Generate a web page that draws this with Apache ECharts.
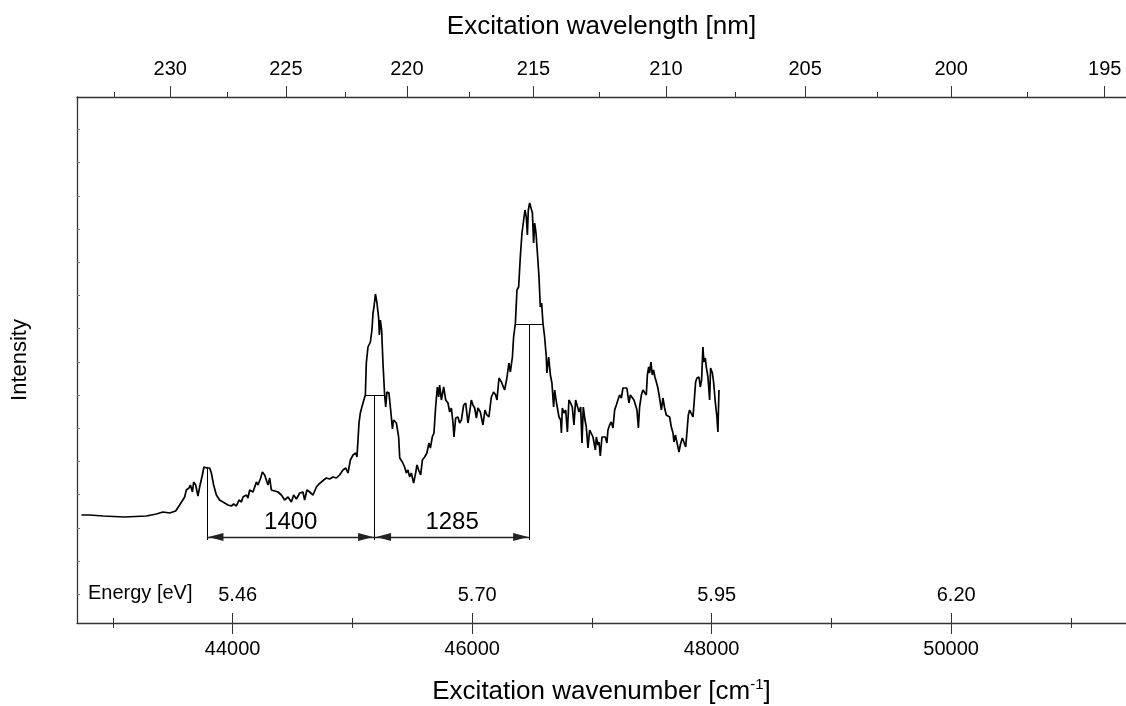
<!DOCTYPE html>
<html><head><meta charset="utf-8">
<script src="https://cdn.jsdelivr.net/npm/echarts@6/dist/echarts.min.js"></script>
<style>html,body{margin:0;padding:0;background:#fff}#chart{width:1126px;height:706px}</style>
</head><body><div id="chart"></div>
<script>
// ---- data ----
const wavenumber = [
42737,42806,42917,43098,43279,43363,43418,43474,43524,43557,43599,43613,43635,43647,43664,43674,43691,43710,43724,43747,
43760,43785,43808,43822,43841,43864,43891,43933,43961,43989,44008,44031,44053,44073,44086,44114,44128,44142,44170,44184,
44198,44211,44231,44248,44267,44281,44295,44309,44323,44351,44378,44407,44434,44462,44490,44509,44532,44560,44587,44601,
44620,44643,44671,44699,44721,44741,44760,44782,44810,44838,44866,44893,44921,44944,44963,44983,45005,45027,45038,45055,
45066,45088,45108,45116,45130,45150,45163,45172,45180,45192,45205,45219,45225,45233,45244,45255,45269,45278,45288,45305,
45325,45334,45344,45367,45386,45395,45417,45436,45450,45464,45478,45492,45511,45528,45539,45553,45570,45584,45603,45622,
45639,45651,45667,45681,45695,45709,45720,45728,45743,45762,45779,45798,45812,45826,45840,45848,45862,45881,45895,45910,
45929,45946,45965,45979,45993,46006,46021,46035,46048,46068,46090,46107,46123,46140,46160,46179,46196,46207,46224,46244,
46257,46271,46290,46307,46319,46336,46346,46361,46374,46388,46402,46416,46430,46441,46452,46461,46469,46480,46491,46503,
46513,46522,46533,46547,46558,46569,46580,46591,46605,46619,46624,46639,46653,46666,46680,46689,46703,46716,46725,46739,
46745,46753,46766,46781,46795,46808,46822,46836,46850,46864,46878,46892,46906,46917,46928,46942,46953,46967,46981,46995,
47009,47017,47029,47037,47050,47059,47070,47084,47098,47112,47125,47134,47148,47162,47176,47190,47204,47217,47231,47246,
47259,47273,47292,47309,47321,47337,47351,47365,47376,47388,47398,47413,47426,47440,47454,47463,47474,47482,47493,47504,
47515,47526,47538,47551,47565,47580,47593,47607,47621,47635,47649,47663,47677,47685,47697,47710,47727,47738,47755,47768,
47783,47793,47805,47816,47830,47844,47855,47866,47877,47894,47905,47916,47927,47935,47947,47955,47969,47983,47991,48006,
48016,48031,48044,48052,48061
];
const intensity = [
108,108,107,106,107,109,111,110,112,118,126,133,135,138,131,141,138,127,136,148,
156,155,155,150,138,128,123,120,118,117,119,117,123,121,126,128,125,133,131,136,
141,138,144,151,148,150,138,145,133,132,131,128,123,126,121,128,124,130,131,123,
133,131,128,136,139,141,143,145,144,146,145,148,153,155,150,163,168,170,166,200,
210,220,228,260,276,281,293,310,316,329,320,305,288,303,293,260,228,216,231,230,
206,194,203,200,186,165,161,156,150,153,146,150,140,150,158,153,148,163,166,170,
180,175,186,190,216,236,226,238,223,236,223,220,211,215,200,186,205,206,200,203,
218,220,200,211,223,218,215,205,215,211,198,213,208,206,226,231,228,223,245,241,
240,233,245,260,251,266,286,300,333,336,366,390,403,413,406,388,413,420,418,410,
380,400,390,366,346,316,320,300,286,266,250,266,248,240,216,233,221,223,206,203,
190,215,210,213,191,223,220,216,198,223,224,211,216,180,216,203,196,175,193,195,
186,185,173,186,178,181,167,186,188,186,180,193,198,201,195,213,218,223,228,225,
235,236,235,220,228,226,223,221,213,195,216,228,233,231,228,248,256,250,261,248,
253,246,241,235,225,213,225,215,208,210,206,196,190,181,188,186,171,178,185,181,
176,190,208,213,215,206,223,241,245,246,236,243,276,261,265,256,246,223,255,250,
241,220,206,191,233
];
const wnMajorTicks = [44000, 46000, 48000, 50000];
const wnMinorTicks = [43000, 45000, 47000, 49000, 51000];
const wlMajorTicks = [230, 225, 220, 215, 210, 205, 200, 195];
const wlMinorTicks = [232.5, 227.5, 222.5, 217.5, 212.5, 207.5, 202.5, 197.5];
const energyLabels = ['5.46', '5.70', '5.95', '6.20'];
const intensityTicks = [28.7, 61.9, 95.1, 128.3, 161.5, 194.7, 227.9, 261.1, 294.3, 327.5, 360.7, 393.9, 427.1, 460.3, 493.5];
// annotations
const peakPositions = [43785, 45185, 46480];
const peakMarkTops = [156, 228, 299];
const fwhmStart = [45108, 46361];
const fwhmEnd = [45269, 46591];
const fwhmLevel = [228, 299];
const spacingLabels = ['1400', '1285'];
const markBottom = 83;
const arrowLevel = 86;

const X_MIN = 42700, X_MAX = 51460, Y_MIN = 0, Y_MAX = 526;
const FONT = "'Liberation Sans', Arial, sans-serif";
const AX = '#333';

const spectrum = wavenumber.map((w, i) => [w, intensity[i]]);
const wlMajorWn = wlMajorTicks.map(l => 1e7 / l);
const wlMinorWn = wlMinorTicks.map(l => 1e7 / l);

function baseX(extra) {
  return Object.assign({
    type: 'value', min: X_MIN, max: X_MAX, gridIndex: 0,
    splitLine: { show: false },
    axisLine: { show: false },
    axisTick: { show: false },
    axisLabel: { show: false }
  }, extra);
}

const guideLines = [];
peakPositions.forEach((p, i) => {
  guideLines.push([{ coord: [p, peakMarkTops[i]] }, { coord: [p, markBottom] }]);
});
fwhmStart.forEach((s, i) => {
  guideLines.push([{ coord: [s, fwhmLevel[i]] }, { coord: [fwhmEnd[i], fwhmLevel[i]] }]);
});
const arrows = spacingLabels.map((lab, i) => [
  { coord: [peakPositions[i], arrowLevel], name: lab },
  { coord: [peakPositions[i + 1], arrowLevel] }
]);

const chart = echarts.init(document.getElementById('chart'), null, { renderer: 'canvas' });
chart.setOption({
  animation: false,
  backgroundColor: '#fff',
  textStyle: { fontFamily: FONT },
  grid: { left: 77, right: 0, top: 97, bottom: 83, containLabel: false, outerBoundsMode: 'none' },
  xAxis: [
    baseX({
      position: 'bottom',
      axisLine: { show: true, lineStyle: { color: AX, width: 1.3 } },
      axisTick: { show: true, customValues: wnMajorTicks, length: 11, lineStyle: { color: AX, width: 1 } },
      axisLabel: { show: true, customValues: wnMajorTicks, fontSize: 20, color: '#000', margin: 16, fontFamily: FONT,
        formatter: v => String(Math.round(v)) },
      name: '{t|Excitation wavenumber [cm}{s|-1}{t|]}',
      nameLocation: 'middle', nameGap: 54,
      nameTextStyle: { rich: {
        t: { fontSize: 26, fontFamily: FONT, color: '#000', lineHeight: 30 },
        s: { fontSize: 15, fontFamily: FONT, color: '#000', verticalAlign: 'top', lineHeight: 30 }
      } }
    }),
    baseX({
      position: 'bottom',
      axisTick: { show: true, inside: true, customValues: wnMajorTicks, length: 10, lineStyle: { color: AX, width: 1 } },
      axisLabel: { show: true, inside: true, customValues: wnMajorTicks, fontSize: 20, color: '#000', margin: 18,
        fontFamily: FONT, padding: [0, 0, 0, 10],
        formatter: v => energyLabels[wnMajorTicks.indexOf(Math.round(v))] }
    }),
    baseX({
      position: 'bottom',
      axisTick: { show: true, customValues: wnMinorTicks, length: 5, lineStyle: { color: AX, width: 1 } }
    }),
    baseX({
      position: 'bottom',
      axisTick: { show: true, inside: true, customValues: wnMinorTicks, length: 5, lineStyle: { color: AX, width: 1 } }
    }),
    baseX({
      position: 'top',
      axisLine: { show: true, lineStyle: { color: AX, width: 1.3 } },
      axisTick: { show: true, customValues: wlMajorWn, length: 11, lineStyle: { color: AX, width: 1 } },
      axisLabel: { show: true, customValues: wlMajorWn, fontSize: 20, color: '#000', margin: 18, fontFamily: FONT,
        formatter: v => String(Math.round(1e7 / v)) },
      name: 'Excitation wavelength [nm]',
      nameLocation: 'middle', nameGap: 57,
      nameTextStyle: { fontSize: 26, color: '#000', fontFamily: FONT }
    }),
    baseX({
      position: 'top',
      axisTick: { show: true, customValues: wlMinorWn, length: 5, lineStyle: { color: AX, width: 1 } }
    })
  ],
  yAxis: [{
    type: 'value', min: Y_MIN, max: Y_MAX, position: 'left',
    splitLine: { show: false },
    axisLine: { show: true, lineStyle: { color: AX, width: 1.3 } },
    axisTick: { show: true, inside: true, customValues: intensityTicks, length: 3, lineStyle: { color: '#777', width: 1 } },
    axisLabel: { show: false },
    name: 'Intensity', nameLocation: 'middle', nameGap: 46, nameRotate: 90,
    nameTextStyle: { fontSize: 22, color: '#000', fontFamily: FONT }
  }],
  graphic: [{
    type: 'text', left: 88, top: 583,
    style: { text: 'Energy [eV]', fontSize: 20, fontFamily: FONT, fill: '#000' }
  }],
  series: [
    {
      type: 'line', name: 'spectrum', xAxisIndex: 0, yAxisIndex: 0,
      data: spectrum, showSymbol: false, symbol: 'none',
      lineStyle: { color: '#000', width: 1.7 }, silent: true
    },
    {
      type: 'line', name: 'guides', xAxisIndex: 0, yAxisIndex: 0, data: [], silent: true,
      markLine: {
        silent: true, symbol: ['none', 'none'], animation: false,
        label: { show: false },
        lineStyle: { color: '#000', width: 1, type: 'solid' },
        data: guideLines
      }
    },
    {
      type: 'line', name: 'spacings', xAxisIndex: 0, yAxisIndex: 0, data: [], silent: true,
      markLine: {
        silent: true, animation: false,
        symbol: ['triangle', 'triangle'], symbolSize: [8, 15],
        symbolOffset: [[0, 9], [0, 9]],
        lineStyle: { color: '#222', width: 1.4, type: 'solid' },
        label: { show: true, position: 'insideMiddleTop', distance: 3, formatter: p => p.name,
          fontSize: 24, color: '#000', fontFamily: FONT },
        data: arrows
      }
    }
  ]
});
</script></body></html>
